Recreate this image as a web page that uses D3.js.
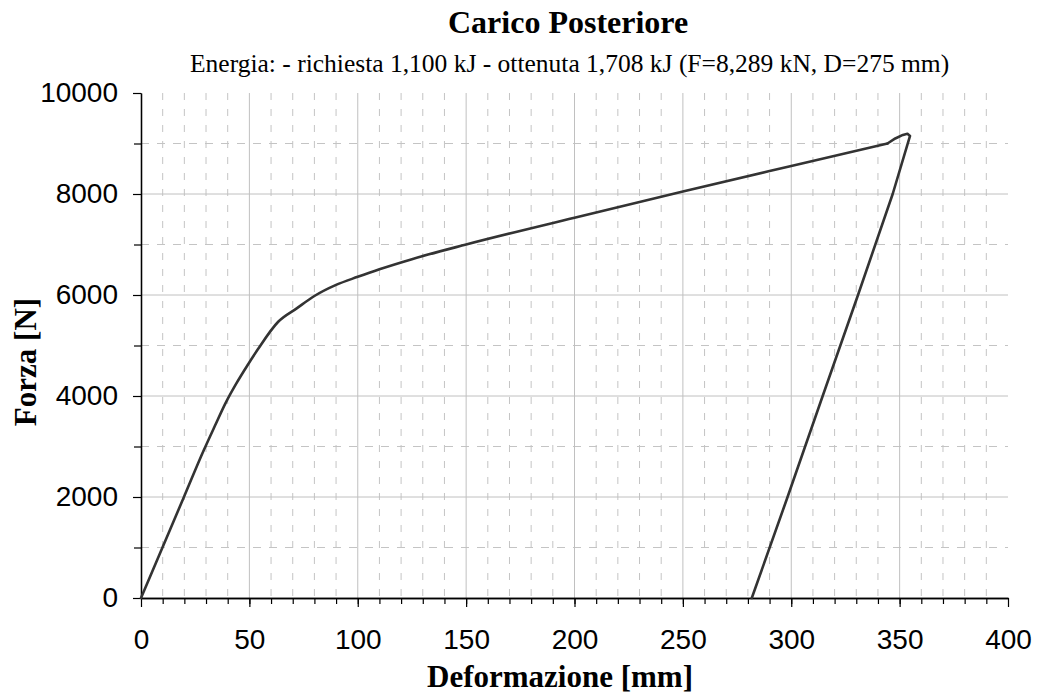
<!DOCTYPE html>
<html>
<head>
<meta charset="utf-8">
<script src="https://cdnjs.cloudflare.com/ajax/libs/d3/7.8.5/d3.min.js"></script>
<style>
  body { margin: 0; background: #fff; }
  svg { display: block; }
</style>
</head>
<body>
<div id="chart"></div>
<script>
const width = 1038;
const height = 696;

// loading branch [mm, N]
const loading = [
  [0, 0], [10, 1010], [20, 2020], [29, 2930], [34, 3400], [39, 3860],
  [44, 4250], [49, 4600], [54, 4930], [63.3, 5470], [72, 5740], [80, 5980],
  [90, 6200], [100, 6360], [110, 6510], [125, 6710], [150, 7000],
  [200, 7530], [250, 8050], [300, 8555], [344.4, 9000]
];
// peak + unloading branch
const unloading = [
  [344.4, 9000], [348, 9100], [351.5, 9170], [353.6, 9194], [354.8, 9150],
  [346.8, 8000], [330.8, 6000], [314.5, 4000], [298.3, 2000], [281.8, 0]
];
const xMajor = [0, 50, 100, 150, 200, 250, 300, 350, 400];
const yMajor = [0, 2000, 4000, 6000, 8000, 10000];

const x = d3.scaleLinear().domain([0, 400]).range([141, 1008]);
const y = d3.scaleLinear().domain([0, 10000]).range([598, 93]);

const svg = d3.select('#chart').append('svg')
    .attr('width', width)
    .attr('height', height);

const grid = svg.append('g').attr('class', 'grid');

// minor vertical (dashed) every 10 mm
grid.selectAll('line.vminor')
    .data(d3.range(10, 400, 10).filter(v => v % 50 !== 0))
    .enter().append('line')
    .attr('x1', d => x(d)).attr('x2', d => x(d))
    .attr('y1', y(10000)).attr('y2', y(0))
    .style('stroke', '#c4c4c4')
    .style('stroke-dasharray', '7,9');

// minor horizontal (dashed) every odd 1000
grid.selectAll('line.hminor')
    .data(d3.range(1000, 10000, 2000))
    .enter().append('line')
    .attr('x1', x(0)).attr('x2', x(400))
    .attr('y1', d => y(d)).attr('y2', d => y(d))
    .style('stroke', '#c4c4c4')
    .style('stroke-dasharray', '8,8');

// major vertical
grid.selectAll('line.vmajor')
    .data(xMajor.filter(v => v > 0 && v < 400))
    .enter().append('line')
    .attr('x1', d => x(d)).attr('x2', d => x(d))
    .attr('y1', y(10000)).attr('y2', y(0))
    .style('stroke', '#c0c0c0');

// major horizontal
grid.selectAll('line.hmajor')
    .data(yMajor.filter(v => v > 0 && v < 10000))
    .enter().append('line')
    .attr('x1', x(0)).attr('x2', x(400))
    .attr('y1', d => y(d)).attr('y2', d => y(d))
    .style('stroke', '#c0c0c0');

// axes
const xAxis = d3.axisBottom(x).tickValues(xMajor).tickSize(9).tickSizeOuter(0).tickPadding(22);
const xMinor = d3.axisBottom(x).tickValues(d3.range(10, 400, 10)).tickSize(6).tickFormat('').tickSizeOuter(0);
const yAxis = d3.axisLeft(y).tickValues(yMajor).tickSize(8).tickSizeOuter(0).tickPadding(15).tickFormat(d3.format('d'));
const yMinor = d3.axisLeft(y).tickValues(d3.range(1000, 10000, 2000)).tickSize(7).tickFormat('').tickSizeOuter(0);

function styleAxis(g) {
    g.selectAll('path').style('stroke', '#000').style('stroke-width', 1.3);
    g.selectAll('line').style('stroke', '#000').style('stroke-width', 1.2);
    g.selectAll('text')
        .style('font-family', 'Liberation Sans, Arial, sans-serif')
        .style('font-size', '28px')
        .style('fill', '#000');
}

svg.append('g').attr('transform', `translate(0,${y(0)})`).call(xMinor).call(styleAxis);
svg.append('g').attr('transform', `translate(0,${y(0)})`).call(xAxis).call(styleAxis);
svg.append('g').attr('transform', `translate(${x(0)},0)`).call(yMinor).call(styleAxis);
svg.append('g').attr('transform', `translate(${x(0)},0)`).call(yAxis).call(styleAxis);

// curve
const smooth = d3.line().x(d => x(d[0])).y(d => y(d[1])).curve(d3.curveMonotoneX);
const straight = d3.line().x(d => x(d[0])).y(d => y(d[1]));

svg.append('path')
    .datum(loading)
    .attr('d', smooth)
    .style('fill', 'none')
    .style('stroke', '#333')
    .style('stroke-width', 2.6)
    .style('stroke-linejoin', 'round')
    .style('stroke-linecap', 'round');
svg.append('path')
    .datum(unloading)
    .attr('d', straight)
    .style('fill', 'none')
    .style('stroke', '#333')
    .style('stroke-width', 2.6)
    .style('stroke-linejoin', 'round')
    .style('stroke-linecap', 'round');

// titles
svg.append('text')
    .attr('x', 448).attr('y', 33)
    .style('font-family', 'Liberation Serif, Times New Roman, serif')
    .style('font-weight', 'bold')
    .style('font-size', '32px')
    .text('Carico Posteriore');

svg.append('text')
    .attr('x', 190).attr('y', 71.5)
    .style('font-family', 'Liberation Serif, Times New Roman, serif')
    .style('font-size', '25.5px')
    .text('Energia: - richiesta 1,100 kJ - ottenuta 1,708 kJ (F=8,289 kN, D=275 mm)');

svg.append('text')
    .attr('x', 427).attr('y', 686.5)
    .style('font-family', 'Liberation Serif, Times New Roman, serif')
    .style('font-weight', 'bold')
    .style('font-size', '31px')
    .text('Deformazione [mm]');

svg.append('text')
    .attr('transform', 'translate(35.5,362) rotate(-90)')
    .attr('text-anchor', 'middle')
    .style('font-family', 'Liberation Serif, Times New Roman, serif')
    .style('font-weight', 'bold')
    .style('font-size', '31px')
    .text('Forza [N]');
</script>
</body>
</html>
